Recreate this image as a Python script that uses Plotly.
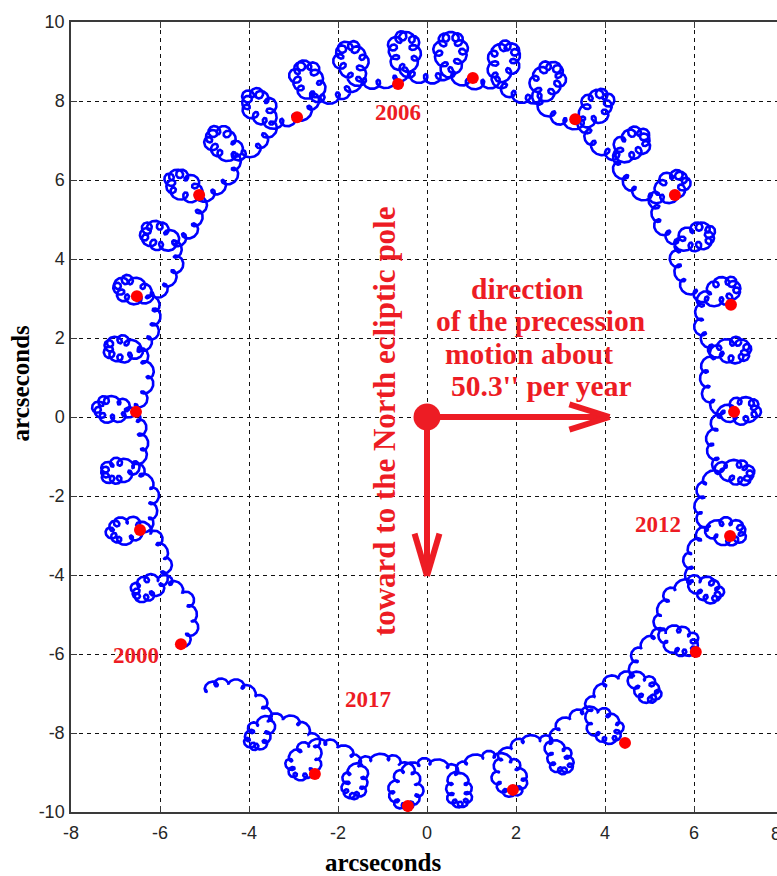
import numpy as np
import plotly.graph_objects as go

# ---- data -------------------------------------------------------------
# Leading terms of the IAU 1980 nutation series.
# Multipliers of the Delaunay arguments (l, l', F, D, Omega) and the
# amplitudes of the longitude (dpsi) and obliquity (deps) terms, 0.0001".
ARG_L = [0, 0, 0, 0, 0, 1, 0, 0, 1, 0, 1, 0, -1, 1, 0, -1, -1, 1]
ARG_LP = [0, 0, 0, 0, 1, 0, 1, 0, 0, -1, 0, 0, 0, 0, 0, 0, 0, 0]
ARG_F = [0, 2, 2, 0, 0, 0, 2, 2, 2, 2, 0, 2, 2, 0, 0, 2, 0, 2]
ARG_D = [0, -2, 0, 0, 0, 0, -2, 0, 0, -2, -2, -2, 0, 0, 2, 2, 0, 0]
ARG_OM = [1, 2, 2, 2, 0, 0, 2, 1, 2, 2, 0, 1, 2, 1, 0, 2, 1, 1]
DPSI = [-171996, -13187, -2274, 2062, 1426, 712, -517, -386, -301, 217,
        -158, 129, 123, 63, 63, -59, -58, -51]
DEPS = [92025, 5736, 977, -895, 54, -7, 224, 200, 129, -95,
        -1, -70, -53, -33, -2, 26, 32, 27]

# Fundamental arguments at J2000 (deg) and their rates (deg / Julian century)
FUND_0 = [134.96340251, 357.52910918, 93.27209062, 297.85019547, 125.04455501]
FUND_1 = [477198.8675605, 35999.0502911, 483202.0174577, 445267.1114469,
          -1934.1362619]
OBLIQUITY_DEG = 23.4392911

# time span of the track (decimal years)
SPAN = [2000.0, 2017.83]

# pole position at the start of each year (arcseconds)
MARK_YEARS = list(range(2000, 2018))
MARK_X = [-5.53, -6.45, -6.54, -6.52, -5.12, -2.92, -0.65, 1.03, 3.33,
          5.57, 6.83, 6.90, 6.81, 6.04, 4.45, 1.93, -0.43, -2.52]
MARK_Y = [-5.75, -2.86, 0.13, 3.06, 5.62, 7.59, 8.43, 8.58, 7.54,
          5.62, 2.84, 0.13, -3.01, -5.95, -8.25, -9.44, -9.85, -9.04]

LABEL_YEARS = ["2000", "2006", "2012", "2017"]
TEXT_DIRECTION = ["direction", "of the precession", "motion about",
                  "50.3'' per year"]
TEXT_POLE = "toward to the North ecliptic pole"
AXIS_TITLE = "arcseconds"

X_TICKS = [-8, -6, -4, -2, 0, 2, 4, 6]
Y_TICKS = [-10, -8, -6, -4, -2, 0, 2, 4, 6, 8, 10]


def nutation(year):
    """Return (dpsi*sin(eps), deps) in arcseconds for decimal years."""
    year = np.asarray(year, dtype=float)
    T = ((year - 2000.0) * 365.25 - 0.5) / 36525.0
    fund = [np.radians(a + b * T) for a, b in zip(FUND_0, FUND_1)]
    dpsi = np.zeros_like(T)
    deps = np.zeros_like(T)
    for k in range(len(DPSI)):
        arg = (ARG_L[k] * fund[0] + ARG_LP[k] * fund[1] + ARG_F[k] * fund[2]
               + ARG_D[k] * fund[3] + ARG_OM[k] * fund[4])
        dpsi += DPSI[k] * np.sin(arg)
        deps += DEPS[k] * np.cos(arg)
    dpsi *= 1e-4
    deps *= 1e-4
    return dpsi * np.sin(np.radians(OBLIQUITY_DEG)), deps


t = np.arange(SPAN[0], SPAN[1], 0.2 / 365.25)
track_x, track_y = nutation(t)

RED = "#ED1C24"
SERIF = "Liberation Serif, Times New Roman, serif"
SANS = "Liberation Sans, Arial, sans-serif"

fig = go.Figure()
fig.add_trace(go.Scatter(x=track_x, y=track_y, mode="lines",
                         line=dict(color="#0000FF", width=2.6),
                         hoverinfo="skip", showlegend=False))
fig.add_trace(go.Scatter(x=MARK_X, y=MARK_Y, mode="markers",
                         marker=dict(color="#FF0000", size=12, symbol="circle"),
                         text=[str(y) for y in MARK_YEARS],
                         showlegend=False))

# precession arrows from the mean pole
shapes = []
arrow = dict(type="line", xref="x", yref="y",
             line=dict(color=RED, width=6))
shapes.append(dict(arrow, x0=0, y0=0, x1=4.05, y1=0))
shapes.append(dict(arrow, x0=4.1, y0=0, x1=3.2, y1=0.32))
shapes.append(dict(arrow, x0=4.1, y0=0, x1=3.2, y1=-0.32))
shapes.append(dict(arrow, x0=0, y0=0, x1=0, y1=-3.95))
shapes.append(dict(arrow, x0=0, y0=-4.02, x1=-0.28, y1=-2.95))
shapes.append(dict(arrow, x0=0, y0=-4.02, x1=0.28, y1=-2.95))
fig.add_trace(go.Scatter(x=[0], y=[0], mode="markers",
                         marker=dict(color=RED, size=27),
                         hoverinfo="skip", showlegend=False))

annotations = []
for lab, (ax_, ay_) in zip(LABEL_YEARS, [(-6.54, -6.05), (-0.65, 7.72),
                                          (5.19, -2.71), (-1.33, -7.16)]):
    annotations.append(dict(x=ax_, y=ay_, text="<b>%s</b>" % lab,
                            showarrow=False,
                            font=dict(family=SERIF, size=23, color=RED)))

for i, line in enumerate(TEXT_DIRECTION):
    annotations.append(dict(x=[2.25, 2.56, 2.29, 2.58][i], y=3.24 - 0.82 * i,
                            text="<b>%s</b>" % line, showarrow=False,
                            font=dict(family=SERIF, size=29.5, color=RED)))

annotations.append(dict(x=-0.94, y=-0.1, text="<b>%s</b>" % TEXT_POLE,
                        textangle=-90, showarrow=False,
                        font=dict(family=SERIF, size=31, color=RED)))

# the last x tick sits just beyond the visible frame
annotations.append(dict(x=1.0085, y=0, xref="paper", yref="paper",
                        yanchor="top", yshift=-10, text="8", showarrow=False,
                        font=dict(family=SANS, size=18, color="#262626")))

# axis titles
annotations.append(dict(x=-1.0, y=0, xref="x", yref="paper", yanchor="middle",
                        yshift=-50, text="<b>%s</b>" % AXIS_TITLE,
                        showarrow=False,
                        font=dict(family=SERIF, size=25, color="black")))
annotations.append(dict(x=0, y=0.85, xref="paper", yref="y", xanchor="center",
                        xshift=-51, textangle=-90,
                        text="<b>%s</b>" % AXIS_TITLE, showarrow=False,
                        font=dict(family=SERIF, size=25, color="black")))

axis_common = dict(showline=True, linecolor="#3a3a3a", linewidth=1.5,
                   ticks="inside", ticklen=6, tickcolor="#3a3a3a",
                   showgrid=True, gridcolor="#111111", gridwidth=1,
                   griddash="4px,4px", zeroline=False,
                   tickfont=dict(family=SANS, size=18, color="#262626"))

fig.update_layout(
    width=777, height=876,
    margin=dict(l=71, r=0, t=22, b=64),
    paper_bgcolor="white", plot_bgcolor="white",
    shapes=shapes, annotations=annotations,
    xaxis=dict(axis_common, range=[-8, 7.865], tickvals=X_TICKS,
               ticktext=[str(v) for v in X_TICKS],
               mirror="ticks", ticklabelstandoff=4),
    yaxis=dict(axis_common, range=[-10, 10], tickvals=Y_TICKS,
               ticktext=[str(v) for v in Y_TICKS],
               ticklabelstandoff=1),
)

fig.write_html("out.html")
